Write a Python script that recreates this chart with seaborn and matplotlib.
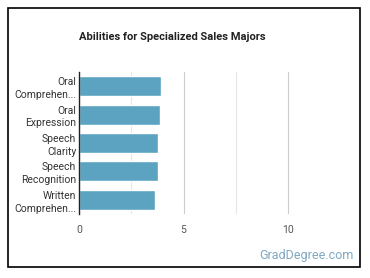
import pandas as pd
import matplotlib.pyplot as plt
import matplotlib.patches as patches
from matplotlib.ticker import FixedLocator
import seaborn as sns

# values
abilities = ['Oral\nComprehen...', 'Oral\nExpression', 'Speech\nClarity',
             'Speech\nRecognition', 'Written\nComprehen...']
scores = [3.94, 3.87, 3.79, 3.79, 3.63]
x_ticks = [0, 5, 10]
minor_ticks = [2.5, 7.5]

df = pd.DataFrame({'ability': abilities, 'score': scores})

sns.set_style('white')
plt.rcParams['font.family'] = ['Roboto', 'DejaVu Sans']

fig = plt.figure(figsize=(3.7, 2.78), dpi=100)
ax = fig.add_axes([0.2135, 0.230, 0.735, 0.511])

sns.barplot(data=df, x='score', y='ability', color='#5ba3c1', saturation=1,
            width=0.7, ax=ax)

ax.set_xlim(0, 13)
ax.set_xticks(x_ticks)
ax.xaxis.set_minor_locator(FixedLocator(minor_ticks))
ax.grid(axis='x', which='major', color='#cccccc', linewidth=0.8)
ax.grid(axis='x', which='minor', color='#e6e6e6', linewidth=0.8)
ax.set_axisbelow(True)
ax.tick_params(axis='x', which='both', length=0, labelsize=7.5, colors='#555555', pad=8)
ax.tick_params(axis='y', length=0, labelsize=7.5, colors='#333333', pad=2)
for lbl in ax.get_yticklabels():
    lbl.set_linespacing(1.35)
ax.set_xlabel('')
ax.set_ylabel('')
for s in ['top', 'right', 'bottom']:
    ax.spines[s].set_visible(False)
ax.spines['left'].set_color('#222222')
ax.spines['left'].set_linewidth(1)

fig.text(0.466, 0.867, 'Abilities for Specialized Sales Majors', ha='center', va='center',
         fontsize=8, fontweight='bold', color='#222222')
fig.text(0.957, 0.08, 'GradDegree.com', ha='right', va='center',
         fontsize=9, color='#7fa8c2')

fig.patches.append(patches.Rectangle((8 / 370, 11 / 278), 352 / 370, 259 / 278,
                                     transform=fig.transFigure, fill=False,
                                     edgecolor='black', linewidth=1.2))

fig.savefig('out.png', dpi=100)
